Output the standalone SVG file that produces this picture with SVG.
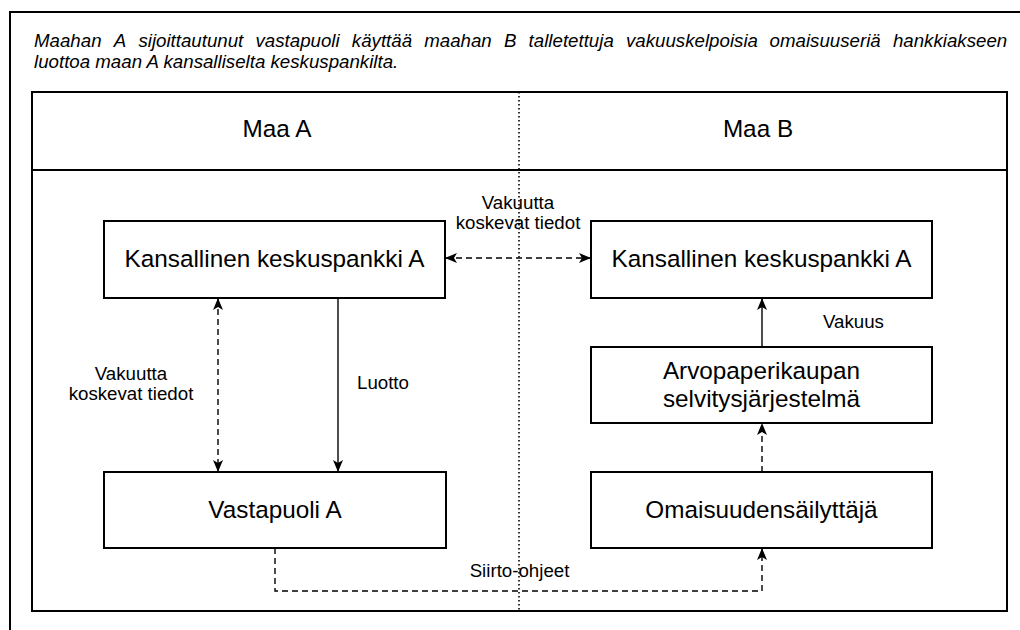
<svg xmlns="http://www.w3.org/2000/svg" width="1020" height="630" viewBox="0 0 1020 630">
<defs>
<marker id="arr" viewBox="0 0 12 10" refX="11" refY="5" markerWidth="12" markerHeight="10" markerUnits="userSpaceOnUse" orient="auto-start-reverse">
<path d="M0,0 L12,5 L0,10 L3,5 Z" fill="#000"/>
</marker>
<style>
.frame{fill:none;stroke:#000;stroke-width:2}
.node rect{fill:#fff;stroke:#000;stroke-width:2}
.nt{font-family:"Liberation Sans",Arial,sans-serif;font-size:24.3px;fill:#000;text-anchor:middle}
.lbl{font-family:"Liberation Sans",Arial,sans-serif;font-size:18.7px;fill:#000}
.title{font-family:"Liberation Sans",Arial,sans-serif;font-size:18.7px;font-style:italic;fill:#000}
.solid{fill:none;stroke:#000;stroke-width:1.4}
.dash{fill:none;stroke:#000;stroke-width:1.4;stroke-dasharray:6 4}
.dot{fill:none;stroke:#000;stroke-width:1.6;stroke-dasharray:1.5 2.5}
</style>
</defs>
<rect width="1020" height="630" fill="#fff"/>
<path class="frame" d="M10,632 V12 H1022"/>
<g id="title" class="title">
<text y="47"><tspan x="34">Maahan</tspan><tspan x="113.7">A</tspan><tspan x="138.4">sijoittautunut</tspan><tspan x="255.5">vastapuoli</tspan><tspan x="351.8">käyttää</tspan><tspan x="424.2">maahan</tspan><tspan x="503.9">B</tspan><tspan x="528.6">talletettuja</tspan><tspan x="626">vakuuskelpoisia</tspan><tspan x="769.6">omaisuuseriä</tspan><tspan x="892.9">hankkiakseen</tspan></text>
<text x="34" y="68">luottoa maan A kansalliselta keskuspankilta.</text>
</g>
<g id="countries">
<rect class="frame" x="32" y="92" width="975" height="519"/>
<line class="frame" x1="32" y1="170" x2="1007" y2="170"/>
<text class="nt" x="277" y="137">Maa A</text>
<text class="nt" x="758" y="137">Maa B</text>
<line class="dot" x1="519" y1="92" x2="519" y2="611"/>
</g>
<g id="kka-left" class="node">
<rect x="104" y="221" width="341" height="77"/>
<text class="nt" x="274.5" y="267">Kansallinen keskuspankki A</text>
</g>
<g id="kka-right" class="node">
<rect x="591" y="221" width="341" height="77"/>
<text class="nt" x="761.5" y="267">Kansallinen keskuspankki A</text>
</g>
<g id="arvopaperi" class="node">
<rect x="591" y="347" width="341" height="76"/>
<text class="nt" x="761.5" y="379">Arvopaperikaupan</text>
<text class="nt" x="761.5" y="407">selvitysjärjestelmä</text>
</g>
<g id="vastapuoli" class="node">
<rect x="104" y="472" width="342" height="76"/>
<text class="nt" x="275" y="518">Vastapuoli A</text>
</g>
<g id="omaisuus" class="node">
<rect x="591" y="472" width="341" height="76"/>
<text class="nt" x="761.5" y="518">Omaisuudensäilyttäjä</text>
</g>
<g id="connectors">
<line class="dash" x1="446" y1="258" x2="590" y2="258" marker-start="url(#arr)" marker-end="url(#arr)"/>
<line class="dash" x1="218" y1="299" x2="218" y2="471" marker-start="url(#arr)" marker-end="url(#arr)"/>
<line class="solid" x1="338" y1="298" x2="338" y2="471" marker-end="url(#arr)"/>
<line class="solid" x1="762" y1="347" x2="762" y2="299" marker-end="url(#arr)"/>
<line class="dash" x1="762" y1="472" x2="762" y2="424" marker-end="url(#arr)"/>
<path class="dash" d="M275,548 V591 H762 V549" marker-end="url(#arr)"/>
</g>
<g id="labels" class="lbl">
<text x="518" y="209" text-anchor="middle">Vakuutta</text>
<text x="518" y="229" text-anchor="middle">koskevat tiedot</text>
<text x="131" y="380" text-anchor="middle">Vakuutta</text>
<text x="131" y="400" text-anchor="middle">koskevat tiedot</text>
<text x="357" y="389">Luotto</text>
<text x="823" y="328">Vakuus</text>
<text x="519.5" y="577" text-anchor="middle">Siirto-ohjeet</text>
</g>
</svg>
